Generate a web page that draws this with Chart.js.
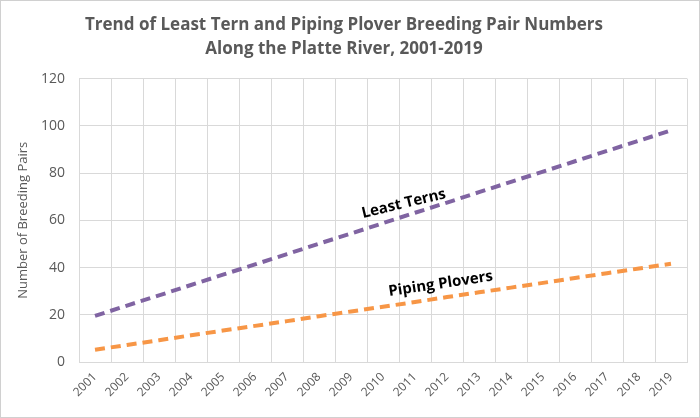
<!DOCTYPE html>
<html>
<head>
<meta charset="utf-8">
<script src="https://cdn.jsdelivr.net/npm/chart.js@4/dist/chart.umd.min.js"></script>
<style>
  html, body { margin: 0; padding: 0; background: #fff; }
  #wrap { position: relative; width: 700px; height: 418px; box-sizing: border-box; border: 1px solid #d0d0d0; }
</style>
</head>
<body>
<div id="wrap"><canvas id="grafico"></canvas></div>
<script>
const anios = ["2001","2002","2003","2004","2005","2006","2007","2008","2009","2010",
  "2011","2012","2013","2014","2015","2016","2017","2018","2019"];
const leastTerns = [19.5, 23.9, 28.2, 32.6, 37.0, 41.3, 45.7, 50.1, 54.4, 58.8,
  63.2, 67.5, 71.9, 76.3, 80.6, 85.0, 89.4, 93.7, 98.1];
const pipingPlovers = [5.2, 7.2, 9.2, 11.3, 13.3, 15.3, 17.3, 19.4, 21.4, 23.4,
  25.4, 27.5, 29.5, 31.5, 33.5, 35.6, 37.6, 39.6, 41.6];
const ticksY = [0, 20, 40, 60, 80, 100, 120];

const gris = "#595959";
const fuente = "'Open Sans', 'Noto Sans', sans-serif";

// etiquetas de las series sobre las lineas
const etiquetas = [
  { texto: "Least Terns", x: 9.65, y: 67, angulo: -13.5 },
  { texto: "Piping Plovers", x: 10.8, y: 33, angulo: -8.5 }
];

const pluginEtiquetas = {
  id: "etiquetas",
  afterDatasetsDraw(chart) {
    const c = chart.ctx;
    const sx = chart.scales.x, sy = chart.scales.y;
    etiquetas.forEach((e) => {
      c.save();
      c.translate(sx.getPixelForValue(e.x), sy.getPixelForValue(e.y));
      c.rotate(e.angulo * Math.PI / 180);
      c.font = "bold 15px " + fuente;
      c.fillStyle = "#000";
      c.textAlign = "center";
      c.textBaseline = "middle";
      c.fillText(e.texto, 0, 0);
      c.restore();
    });
  }
};

const ctx = document.getElementById("grafico").getContext("2d");
new Chart(ctx, {
  type: "line",
  data: {
    labels: anios,
    datasets: [
      {
        label: "Least Terns",
        data: leastTerns,
        borderColor: "#8064A2",
        borderWidth: 4,
        borderDash: [10, 6],
        pointRadius: 0,
        fill: false
      },
      {
        label: "Piping Plovers",
        data: pipingPlovers,
        borderColor: "#F79646",
        borderWidth: 4,
        borderDash: [10, 6],
        pointRadius: 0,
        fill: false
      }
    ]
  },
  options: {
    responsive: true,
    maintainAspectRatio: false,
    animation: false,
    layout: { padding: { left: 0, right: 12, top: 6, bottom: 0 } },
    plugins: {
      legend: { display: false },
      tooltip: { enabled: false },
      title: {
        display: true,
        text: ["Trend of Least Tern and Piping Plover Breeding Pair Numbers", "Along the Platte River, 2001-2019"],
        color: gris,
        font: { family: fuente, size: 17, weight: "bold", lineHeight: 1.4 },
        padding: { top: 6, bottom: 18 }
      }
    },
    scales: {
      x: {
        offset: true,
        afterFit(scale) { scale.height = 55; },
        grid: { color: "#d9d9d9", offset: true, drawTicks: false },
        border: { color: "#d9d9d9" },
        ticks: {
          color: gris,
          font: { family: fuente, size: 12 },
          maxRotation: 45,
          minRotation: 45,
          padding: 8
        }
      },
      y: {
        min: 0,
        max: 120,
        afterFit(scale) { scale.width = 78; },
        afterBuildTicks(scale) {
          scale.ticks = ticksY.map((v) => ({ value: v }));
        },
        grid: { color: "#d9d9d9", drawTicks: false },
        border: { display: false },
        ticks: {
          color: gris,
          font: { family: fuente, size: 14 },
          padding: 14
        },
        title: {
          display: true,
          text: "Number of Breeding Pairs",
          color: gris,
          font: { family: fuente, size: 13 },
          padding: { top: 14, bottom: 0 }
        }
      }
    }
  },
  plugins: [pluginEtiquetas]
});
</script>
</body>
</html>
